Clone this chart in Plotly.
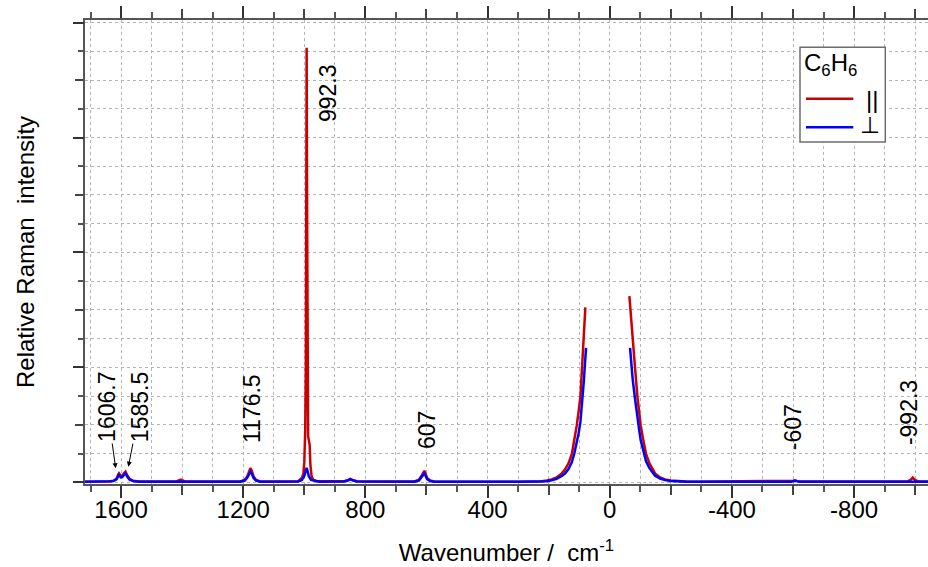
import plotly.graph_objects as go

# ---------------- data ----------------
# parallel polarisation (red)
wn_par = [1718, 1680, 1640, 1625, 1615, 1610, 1606.7, 1601, 1596, 1590, 1585.5, 1580, 1572, 1560, 1540,
          1420, 1410, 1404, 1398, 1390,
          1210, 1195, 1186, 1180, 1176.5, 1172, 1166, 1158, 1145,
          1020, 1008, 1003, 1000, 997, 995, 993.5, 992.3, 991, 989.5, 987.5, 985, 982.5, 980, 976, 970, 960, 950,
          870, 858, 849, 840, 828,
          640, 625, 615, 610, 607, 604, 598, 588, 575,
          300, 260, 228, 206, 190, 174, 157, 146, 135, 124, 116, 108, 102, 96, 90.7, 85.2, 79.8,
          8,
          -64.3, -70, -75.2, -82.8, -90.5, -96, -101.4, -110, -118.9, -130, -148.4, -165, -181, -200, -219,
          -250, -280,
          -580, -600, -607, -614, -630,
          -975, -985, -992.3, -999, -1010, -1042]
int_par = [0.02, 0.02, 0.03, 0.05, 0.12, 0.25, 0.31, 0.22, 0.22, 0.32, 0.37, 0.25, 0.12, 0.05, 0.03,
           0.03, 0.06, 0.09, 0.06, 0.03,
           0.03, 0.08, 0.22, 0.42, 0.49, 0.40, 0.20, 0.08, 0.03,
           0.04, 0.15, 0.30, 0.70, 1.8, 4.0, 10.0, 15.12, 10.0, 3.0, 1.6, 1.45, 1.3, 0.6, 0.2, 0.08, 0.04, 0.04,
           0.04, 0.07, 0.12, 0.07, 0.04,
           0.03, 0.08, 0.25, 0.38, 0.40, 0.33, 0.15, 0.06, 0.03,
           0.02, 0.02, 0.03, 0.06, 0.10, 0.17, 0.31, 0.45, 0.66, 0.99, 1.45, 1.98, 2.45, 2.99, 3.99, 4.99, 6.09,
           None,
           6.48, 5.6, 4.99, 3.99, 2.99, 2.5, 1.98, 1.45, 0.99, 0.66, 0.31, 0.17, 0.10, 0.06, 0.04,
           0.025, 0.02,
           0.03, 0.05, 0.06, 0.04, 0.03,
           0.03, 0.08, 0.16, 0.08, 0.03, 0.03]

# perpendicular polarisation (blue)
wn_perp = [1718, 1680, 1640, 1625, 1615, 1610, 1606.7, 1601, 1596, 1590, 1585.5, 1580, 1572, 1560, 1540,
           1410, 1404, 1398,
           1210, 1195, 1186, 1180, 1176.5, 1172, 1166, 1158, 1145,
           1020, 1008, 1000, 995, 992.3, 989.5, 985, 978, 965, 950,
           870, 858, 849, 840, 828,
           640, 625, 615, 610, 607, 604, 598, 588, 575,
           300, 260, 228, 206, 190, 174, 157, 146, 135, 124, 116, 108, 102, 96, 90, 85, 80, 77.6,
           8,
           -66.5, -70, -75, -82.8, -90.5, -96, -101.4, -110, -118.9, -130, -148.4, -165, -181, -200, -219,
           -250,
           -595, -603, -607, -612, -620, -1042]
int_perp = [0.02, 0.02, 0.02, 0.04, 0.10, 0.21, 0.26, 0.17, 0.18, 0.27, 0.31, 0.20, 0.09, 0.04, 0.02,
            0.02, 0.03, 0.02,
            0.02, 0.06, 0.17, 0.32, 0.37, 0.30, 0.15, 0.06, 0.02,
            0.03, 0.08, 0.22, 0.42, 0.50, 0.40, 0.20, 0.08, 0.04, 0.02,
            0.03, 0.06, 0.11, 0.06, 0.03,
            0.02, 0.06, 0.20, 0.29, 0.31, 0.25, 0.11, 0.04, 0.02,
            0.02, 0.02, 0.025, 0.04, 0.07, 0.12, 0.22, 0.31, 0.46, 0.70, 1.0, 1.38, 1.7, 2.1, 2.8, 3.5, 4.3, 4.68,
            None,
            4.68, 4.1, 3.6, 2.9, 2.2, 1.85, 1.46, 1.07, 0.73, 0.49, 0.23, 0.13, 0.075, 0.045, 0.03,
            0.02,
            0.02, 0.05, 0.06, 0.04, 0.02, 0.02]

peak_labels = ["1606.7", "1585.5", "1176.5", "992.3", "607", "-607", "-992.3"]
x_label_vals = [1600, 1200, 800, 400, 0, -400, -800]
x_label_text = ["1600", "1200", "800", "400", "0", "-400", "-800"]
x_mid_vals = [1400, 1000, 600, 200, -200, -600, -1000]
y_major_vals = [0, 4, 8, 12, 16]
legend_title = "C<sub>6</sub>H<sub>6</sub>"
series_names = ["||", "⊥"]

# ---------------- layout constants ----------------
FONT = "Liberation Sans, Arial, Helvetica, sans-serif"
RED = "#cc0000"
BLUE = "#0000ff"
GRID = "#b4b4b4"
AXIS = "#555555"
L, R, T, B = 85, 0, 20, 83
W, H = 928, 567
PW, PH = W - L - R, H - T - B
XR = [1718, -1042]
YR = [-0.06, 16.09]


def px(xp):   # page pixel -> paper x
    return (xp - L) / PW


def py(yp):   # page pixel -> paper y
    return (H - B - yp) / PH


# label centre positions (data coordinates); arrowed labels give arrow head + pixel offset
label_pos = {
    "1176.5": (1171.2, 2.55),
    "992.3": (922.3, 13.55),
    "607": (598.2, 1.82),
    "-607": (-600.2, 1.92),
    "-992.3": (-980.0, 2.41),
}
arrow_labels = {
    "1606.7": (1617.5, 0.49, -8.7, -61.3),
    "1585.5": (1576.0, 0.54, 11.7, -59.7),
}

fig = go.Figure()
fig.add_trace(go.Scatter(x=wn_par, y=int_par, mode="lines", name=series_names[0],
                         line=dict(color=RED, width=2.5), connectgaps=False))
fig.add_trace(go.Scatter(x=wn_perp, y=int_perp, mode="lines", name=series_names[1],
                         line=dict(color=BLUE, width=2.5), connectgaps=False))
# empty carrier so the extra tick-only axes are laid out
fig.add_trace(go.Scatter(x=[], y=[], xaxis="x2", yaxis="y2", showlegend=False, hoverinfo="skip"))

annotations = []
for lab in peak_labels:
    font = dict(family=FONT, size=23, color="black")
    if lab in arrow_labels:
        hx, hy, ax, ay = arrow_labels[lab]
        annotations.append(dict(x=hx, y=hy, xref="x", yref="y", text=lab, showarrow=True,
                                ax=ax, ay=ay, axref="pixel", ayref="pixel",
                                arrowhead=2, arrowsize=1, arrowwidth=1, arrowcolor="black",
                                standoff=0, startstandoff=0,
                                textangle=-90, font=font))
    else:
        x, y = label_pos[lab]
        annotations.append(dict(x=x, y=y, xref="x", yref="y", text=lab, showarrow=False,
                                textangle=-90, xanchor="center", yanchor="middle", font=font))

# legend (drawn as a boxed key)
annotations.append(dict(x=px(802), y=py(65), xref="paper", yref="paper", text=legend_title,
                        showarrow=False, xanchor="left", yanchor="middle",
                        font=dict(family=FONT, size=24, color="black")))
annotations.append(dict(x=px(871.5), y=py(99.5), xref="paper", yref="paper", text=series_names[0],
                        showarrow=False, xanchor="center", yanchor="middle",
                        font=dict(family=FONT, size=24, color="black")))
annotations.append(dict(x=px(870.4), y=py(125.0), xref="paper", yref="paper", text=series_names[1],
                        showarrow=False, xanchor="center", yanchor="middle",
                        font=dict(family=FONT, size=23, color="black")))
shapes = [
    dict(type="rect", xref="paper", yref="paper", x0=px(800), x1=px(885.3), y0=py(142), y1=py(47.3),
         line=dict(color="#6e6e6e", width=1.5), fillcolor="white", layer="above"),
    dict(type="line", xref="paper", yref="paper", x0=px(806), x1=px(853.3), y0=py(98.7), y1=py(98.7),
         line=dict(color=RED, width=2.5)),
    dict(type="line", xref="paper", yref="paper", x0=px(806), x1=px(853.3), y0=py(127.3), y1=py(127.3),
         line=dict(color=BLUE, width=2.5)),
]

grid_minor = dict(showgrid=True, gridcolor=GRID, griddash="dot", gridwidth=1)

fig.update_layout(
    width=W, height=H,
    margin=dict(l=L, r=R, t=T, b=B),
    paper_bgcolor="white", plot_bgcolor="white",
    font=dict(family=FONT, size=24, color="black"),
    showlegend=False,
    annotations=annotations,
    shapes=shapes,
    xaxis=dict(
        range=XR, autorange=False, automargin=False,
        tickmode="array", tickvals=x_label_vals, ticktext=x_label_text,
        ticks="outside", ticklen=12, tickwidth=1.5, tickcolor="#333333",
        ticklabelstandoff=-9,
        showline=True, linecolor=AXIS, linewidth=1.5, mirror="ticks",
        showgrid=True, gridcolor=GRID, griddash="dot", gridwidth=1,
        zeroline=False,
        minor=dict(tickmode="linear", tick0=0, dtick=100, ticks="outside", ticklen=6,
                   tickcolor="#555555", **grid_minor),
        tickfont=dict(family=FONT, size=24, color="black"),
        title=dict(text="Wavenumber /\u00a0\u00a0cm<sup>-1</sup>", standoff=23,
                   font=dict(family=FONT, size=24, color="black")),
    ),
    xaxis2=dict(
        overlaying="x", anchor="y", side="bottom", range=XR, autorange=False,
        tickmode="array", tickvals=x_mid_vals, showticklabels=False,
        ticks="outside", ticklen=10, tickwidth=1.5, tickcolor="#444444",
        showline=False, mirror="ticks", showgrid=False, zeroline=False, automargin=False,
    ),
    yaxis=dict(
        range=YR, autorange=False, automargin=False,
        tickmode="linear", tick0=0, dtick=2, showticklabels=False,
        ticks="outside", ticklen=8, tickwidth=1.5, tickcolor="#444444",
        showline=True, linecolor=AXIS, linewidth=1.5,
        showgrid=True, gridcolor=GRID, griddash="dot", gridwidth=1,
        zeroline=False,
        minor=dict(tickmode="linear", tick0=0, dtick=1, ticks="outside", ticklen=5,
                   tickcolor="#555555", **grid_minor),
        title=dict(text="Relative Raman\u00a0\u00a0intensity", standoff=34,
                   font=dict(family=FONT, size=24, color="black")),
    ),
    yaxis2=dict(
        overlaying="y", anchor="x", side="left", range=YR, autorange=False,
        tickmode="array", tickvals=y_major_vals, showticklabels=False,
        ticks="outside", ticklen=11, tickwidth=1.5, tickcolor="#333333",
        showline=False, showgrid=False, zeroline=False, automargin=False,
    ),
)

fig.write_html("out.html", config={"displayModeBar": False},
               post_script="document.body.style.margin='0px';document.body.style.overflow='hidden';")
